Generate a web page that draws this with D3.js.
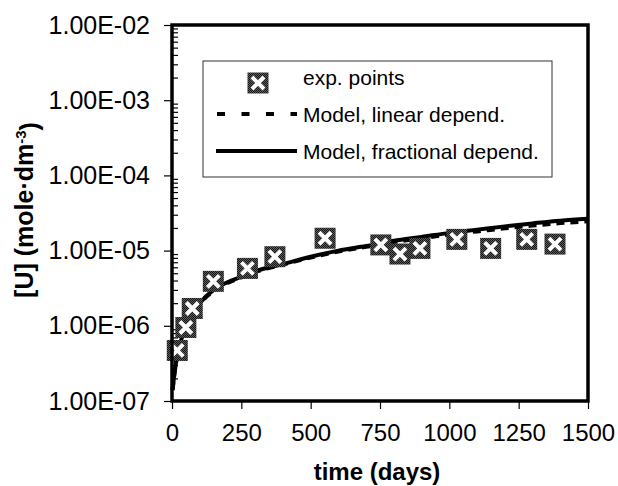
<!DOCTYPE html>
<html>
<head>
<meta charset="utf-8">
<script src="https://cdn.jsdelivr.net/npm/d3@7"></script>
<style>
  body { margin: 0; background: #fff; }
  svg { font-family: Arial, "Liberation Sans", Helvetica, sans-serif; }
</style>
</head>
<body>
<div id="vis"></div>
<script>
// Frame
const FRAME_WIDTH = 618;
const FRAME_HEIGHT = 486;
const MARGINS = {left: 172, right: 30, top: 25, bottom: 85};
const VIS_WIDTH = FRAME_WIDTH - MARGINS.left - MARGINS.right;
const VIS_HEIGHT = FRAME_HEIGHT - MARGINS.top - MARGINS.bottom;

// Data
const expDays = [19, 50, 73, 149, 272, 371, 552, 753, 822, 894, 1027, 1149, 1279, 1381];
const expConc = [4.7e-7, 9.5e-7, 1.7e-6, 3.9e-6, 5.8e-6, 8.3e-6, 1.46e-5, 1.19e-5, 9.0e-6, 1.07e-5, 1.41e-5, 1.07e-5, 1.41e-5, 1.22e-5];

const modelDays = [2, 10, 20, 30, 50, 75, 100, 150, 200, 250, 300, 400, 500, 600, 700, 800, 900, 1000, 1100, 1200, 1300, 1400, 1500];
const linearModel = [1.4e-7, 2.5e-7, 4.1e-7, 5.9e-7, 8.9e-7, 1.45e-6, 1.95e-6, 2.9e-6, 3.7e-6, 4.4e-6, 5.2e-6, 6.5e-6, 8.1e-6, 9.7e-6, 1.12e-5, 1.3e-5, 1.46e-5, 1.64e-5, 1.8e-5, 1.98e-5, 2.15e-5, 2.32e-5, 2.45e-5];
const fractionalModel = [1.4e-7, 2.5e-7, 4.2e-7, 6.0e-7, 9.0e-7, 1.5e-6, 2.0e-6, 3.0e-6, 3.8e-6, 4.5e-6, 5.3e-6, 6.6e-6, 8.3e-6, 1.0e-5, 1.15e-5, 1.35e-5, 1.52e-5, 1.72e-5, 1.9e-5, 2.1e-5, 2.3e-5, 2.5e-5, 2.65e-5];

const xTicks = [0, 250, 500, 750, 1000, 1250, 1500];
const yTicks = [1e-7, 1e-6, 1e-5, 1e-4, 1e-3, 1e-2];
const yTickLabels = ["1.00E-07", "1.00E-06", "1.00E-05", "1.00E-04", "1.00E-03", "1.00E-02"];
const legendLabels = ["exp. points", "Model, linear depend.", "Model, fractional depend."];

const FRAME = d3.select("#vis")
  .append("svg")
    .attr("width", FRAME_WIDTH)
    .attr("height", FRAME_HEIGHT);

// dithered grey fill for the markers
const defs = FRAME.append("defs");
const pat = defs.append("pattern")
  .attr("id", "dither")
  .attr("width", 2).attr("height", 2)
  .attr("patternUnits", "userSpaceOnUse");
pat.append("rect").attr("width", 2).attr("height", 2).attr("fill", "#5e5e5e");
pat.append("rect").attr("width", 1).attr("height", 1).attr("fill", "#151515");
pat.append("rect").attr("x", 1).attr("y", 1).attr("width", 1).attr("height", 1).attr("fill", "#151515");

// Scales
const X_SCALE = d3.scaleLinear()
  .domain([0, 1500])
  .range([MARGINS.left, MARGINS.left + VIS_WIDTH]);

const Y_SCALE = d3.scaleLog()
  .domain([1e-7, 1e-2])
  .range([MARGINS.top + VIS_HEIGHT, MARGINS.top]);

// minor log ticks (inside)
const minor = [];
yTicks.slice(0, -1).forEach(d => { for (let k = 2; k <= 9; k++) minor.push(d * k); });

FRAME.append("g")
  .attr("transform", "translate(" + MARGINS.left + ",0)")
  .call(d3.axisRight(Y_SCALE).tickValues(minor).tickSize(6).tickFormat(""))
  .call(g => g.select(".domain").remove())
  .selectAll("line").attr("stroke", "#000").attr("stroke-width", 1.2);

// y axis (major ticks outside)
FRAME.append("g")
  .attr("transform", "translate(" + MARGINS.left + ",0)")
  .call(d3.axisLeft(Y_SCALE).tickValues(yTicks).tickSize(8).tickPadding(14)
        .tickFormat((d, i) => yTickLabels[i]))
  .call(g => g.select(".domain").remove())
  .call(g => g.selectAll("line").attr("stroke", "#000").attr("stroke-width", 1.2))
  .call(g => g.selectAll("text").attr("font-size", "25px").attr("fill", "#000")
        .attr("font-family", "Arial, 'Liberation Sans', sans-serif"));

// x axis
FRAME.append("g")
  .attr("transform", "translate(0," + (MARGINS.top + VIS_HEIGHT) + ")")
  .call(d3.axisBottom(X_SCALE).tickValues(xTicks).tickSize(8).tickPadding(15)
        .tickFormat(d3.format("d")))
  .call(g => g.select(".domain").remove())
  .call(g => g.selectAll("line").attr("stroke", "#000").attr("stroke-width", 1.2))
  .call(g => g.selectAll("text").attr("font-size", "24px").attr("fill", "#000")
        .attr("font-family", "Arial, 'Liberation Sans', sans-serif"));

// model curves
const line = (vals) => d3.line()
  .x((d, i) => X_SCALE(modelDays[i]))
  .y((d, i) => Y_SCALE(vals[i]))
  .curve(d3.curveMonotoneX)(vals);

FRAME.append("path")
  .attr("d", line(linearModel))
  .attr("fill", "none")
  .attr("stroke", "#000")
  .attr("stroke-width", 4)
  .attr("stroke-dasharray", "8,6");

FRAME.append("path")
  .attr("d", line(fractionalModel))
  .attr("fill", "none")
  .attr("stroke", "#000")
  .attr("stroke-width", 4);

// experimental points
function drawMarker(g, cx, cy) {
  const s = 10.5;
  g.append("rect")
    .attr("x", cx - s).attr("y", cy - s)
    .attr("width", 2 * s).attr("height", 2 * s)
    .attr("fill", "url(#dither)");
  const o = 4.5;
  g.append("path")
    .attr("d", "M" + (cx - s + o) + "," + (cy - s + o) + "L" + (cx + s - o) + "," + (cy + s - o) +
               "M" + (cx + s - o) + "," + (cy - s + o) + "L" + (cx - s + o) + "," + (cy + s - o))
    .attr("stroke", "#fff")
    .attr("stroke-width", 4);
}

const PTS = FRAME.append("g");
expDays.forEach((d, i) => drawMarker(PTS, X_SCALE(d), Y_SCALE(expConc[i])));

// plot border
FRAME.append("rect")
  .attr("x", MARGINS.left)
  .attr("y", MARGINS.top)
  .attr("width", VIS_WIDTH)
  .attr("height", VIS_HEIGHT)
  .attr("fill", "none")
  .attr("stroke", "#000")
  .attr("stroke-width", 3.5);

// legend
const LEG = FRAME.append("g");
LEG.append("rect")
  .attr("x", 203).attr("y", 61)
  .attr("width", 349).attr("height", 116)
  .attr("fill", "#fff")
  .attr("stroke", "#333")
  .attr("stroke-width", 1);

drawMarker(LEG, 258, 83);
LEG.append("line")
  .attr("x1", 217).attr("x2", 297).attr("y1", 114).attr("y2", 114)
  .attr("stroke", "#000").attr("stroke-width", 4).attr("stroke-dasharray", "8,16.5");
LEG.append("line")
  .attr("x1", 216).attr("x2", 297).attr("y1", 151).attr("y2", 151)
  .attr("stroke", "#000").attr("stroke-width", 4);

LEG.selectAll("text.leg")
  .data(legendLabels)
  .enter()
  .append("text")
    .attr("class", "leg")
    .attr("x", 303)
    .attr("y", (d, i) => 85 + i * 37)
    .attr("font-size", "21px")
    .text(d => d);

// axis titles
FRAME.append("text")
  .attr("x", 377)
  .attr("y", 480)
  .attr("text-anchor", "middle")
  .attr("font-size", "24px")
  .attr("font-weight", "bold")
  .text("time (days)");

const YT = FRAME.append("text")
  .attr("transform", "translate(33,210) rotate(-90)")
  .attr("text-anchor", "middle")
  .attr("font-size", "25px")
  .attr("font-weight", "bold");
YT.append("tspan").text("[U] (mole·dm");
YT.append("tspan").attr("dy", "-0.5em").attr("font-size", "15px").text("-3");
YT.append("tspan").attr("dy", "0.5em").text(")");
</script>
</body>
</html>
